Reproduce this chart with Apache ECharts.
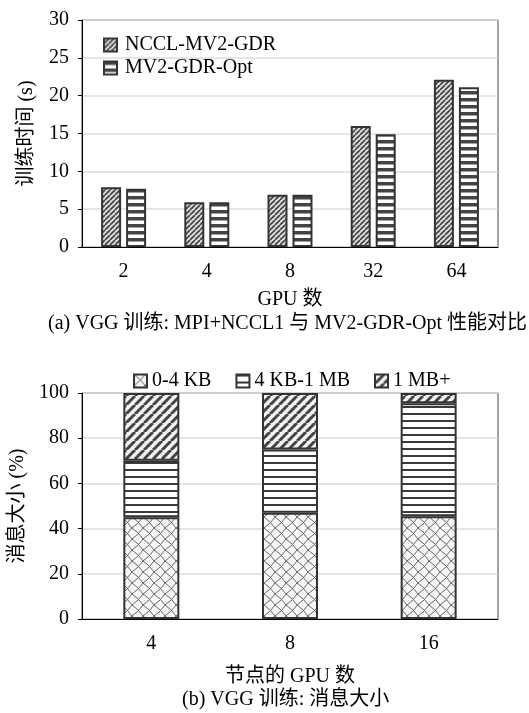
<!DOCTYPE html>
<html>
<head>
<meta charset="utf-8">
<script src="https://cdn.jsdelivr.net/npm/echarts@6/dist/echarts.min.js"></script>
<style>
  html, body { margin: 0; padding: 0; background: #fff; }
  #chart { width: 529px; height: 713px; }
</style>
</head>
<body>
<div id="chart"></div>
<script>
// (a) 训练时间
const gpuCounts = ["2", "4", "8", "32", "64"];
const ncclMv2Gdr = [7.9, 5.9, 6.9, 16.0, 22.1];
const mv2GdrOpt = [7.7, 5.9, 6.9, 14.9, 21.1];

// (b) 消息大小
const nodeGpus = ["4", "8", "16"];
const msgSmall = [45, 47, 45.5];
const msgMid = [25, 28, 50];
const msgLarge = [30, 25, 4.5];

const FONT = "'Liberation Serif', 'Noto Sans CJK SC', serif";

// canvas patterns for the hatched fills
function pattern(size, draw) {
  const c = document.createElement("canvas");
  c.width = size[0];
  c.height = size[1];
  draw(c.getContext("2d"), size[0], size[1]);
  return { image: c, repeat: "repeat" };
}
function diag(s, bg, fg, lw) {
  return pattern([s, s], function (g, w, h) {
    g.fillStyle = bg;
    g.fillRect(0, 0, w, h);
    g.strokeStyle = fg;
    g.lineWidth = lw;
    for (let k = -1; k <= 1; k++) {
      g.beginPath();
      g.moveTo(k * w, h);
      g.lineTo(k * w + w, 0);
      g.stroke();
    }
  });
}
function stripes(h, dark, bg, fg) {
  return pattern([4, h], function (g, w, hh) {
    g.fillStyle = bg;
    g.fillRect(0, 0, w, hh);
    g.fillStyle = fg;
    g.fillRect(0, 0, w, dark);
  });
}
function lattice(s) {
  return pattern([s, s], function (g, w, h) {
    g.fillStyle = "#f6f6f6";
    g.fillRect(0, 0, w, h);
    g.strokeStyle = "#666";
    g.lineWidth = 1;
    g.beginPath();
    g.moveTo(0, 0); g.quadraticCurveTo(w * 0.6, h * 0.4, w, h);
    g.moveTo(w, 0); g.quadraticCurveTo(w * 0.6, h * 0.6, 0, h);
    g.stroke();
  });
}

const patDiagA = diag(5, "#dedede", "#444", 1.7);
const patStripeA = stripes(7, 3.5, "#ffffff", "#444");
const patLattice = lattice(11);
const patStripeB = stripes(7, 2, "#ffffff", "#3a3a3a");
const patDiagB = diag(9, "#f2f2f2", "#444", 3);

const border = { borderColor: "#333", borderWidth: 2 };
const txt = { fontFamily: FONT, fontSize: 20, color: "#000" };

let myChart = echarts.init(document.getElementById("chart"));
let option = {
  animation: false,
  backgroundColor: "#fff",
  textStyle: { fontFamily: FONT },
  grid: [
    { left: 82, top: 20, width: 416, height: 227, show: true, borderColor: "#444", borderWidth: 1 },
    { left: 82, top: 393, width: 416, height: 226, show: true, borderColor: "#444", borderWidth: 1 }
  ],
  legend: [
    {
      data: ["NCCL-MV2-GDR", "MV2-GDR-Opt"],
      orient: "vertical",
      left: 98,
      top: 30,
      icon: "rect",
      itemWidth: 13,
      itemHeight: 13,
      itemGap: 3,
      textStyle: Object.assign({}, txt, { padding: [0, 0, 0, 3] })
    },
    {
      data: ["0-4 KB", "4 KB-1 MB", "1 MB+"],
      orient: "horizontal",
      left: 128,
      top: 366,
      icon: "rect",
      itemWidth: 13,
      itemHeight: 13,
      itemGap: 24,
      textStyle: txt
    }
  ],
  xAxis: [
    {
      gridIndex: 0,
      type: "category",
      data: gpuCounts,
      name: "GPU 数",
      nameLocation: "middle",
      nameGap: 43,
      nameTextStyle: txt,
      axisLine: { lineStyle: { color: "#000", width: 1 } },
      axisTick: { inside: true, alignWithLabel: true, length: 4, lineStyle: { color: "#000" } },
      axisLabel: Object.assign({ margin: 15 }, txt)
    },
    {
      gridIndex: 1,
      type: "category",
      data: nodeGpus,
      name: "节点的 GPU 数",
      nameLocation: "middle",
      nameGap: 48,
      nameTextStyle: txt,
      axisLine: { lineStyle: { color: "#000", width: 1 } },
      axisTick: { inside: true, length: 5, lineStyle: { color: "#000" } },
      axisLabel: Object.assign({ margin: 15 }, txt)
    }
  ],
  yAxis: [
    {
      gridIndex: 0,
      type: "value",
      min: 0,
      max: 30,
      interval: 5,
      name: "训练时间 (s)",
      nameLocation: "middle",
      nameGap: 45,
      nameTextStyle: txt,
      axisLine: { show: true, lineStyle: { color: "#000", width: 1 } },
      axisTick: { show: true, length: 4, lineStyle: { color: "#000" } },
      axisLabel: Object.assign({ margin: 13 }, txt),
      splitLine: { lineStyle: { color: "#dcdcdc", width: 1.5 } }
    },
    {
      gridIndex: 1,
      type: "value",
      min: 0,
      max: 100,
      interval: 20,
      name: "消息大小 (%)",
      nameLocation: "middle",
      nameGap: 45,
      nameTextStyle: txt,
      axisLine: { show: true, lineStyle: { color: "#000", width: 1 } },
      axisTick: { show: true, length: 4, lineStyle: { color: "#000" } },
      axisLabel: Object.assign({ margin: 13 }, txt),
      splitLine: { lineStyle: { color: "#dcdcdc", width: 1.5 } }
    }
  ],
  graphic: [
    {
      type: "text",
      left: 48,
      top: 314,
      style: { text: "(a) VGG 训练: MPI+NCCL1 与 MV2-GDR-Opt 性能对比", font: "20px " + FONT, fill: "#000" }
    },
    {
      type: "text",
      left: 182,
      top: 690,
      style: { text: "(b) VGG 训练: 消息大小", font: "20px " + FONT, fill: "#000" }
    }
  ],
  series: [
    {
      name: "NCCL-MV2-GDR",
      type: "bar",
      xAxisIndex: 0,
      yAxisIndex: 0,
      barWidth: 20,
      barGap: "25%",
      itemStyle: Object.assign({ color: patDiagA }, border),
      data: ncclMv2Gdr
    },
    {
      name: "MV2-GDR-Opt",
      type: "bar",
      xAxisIndex: 0,
      yAxisIndex: 0,
      barWidth: 20,
      barGap: "25%",
      itemStyle: Object.assign({ color: patStripeA }, border),
      data: mv2GdrOpt
    },
    {
      name: "0-4 KB",
      type: "bar",
      stack: "msg",
      xAxisIndex: 1,
      yAxisIndex: 1,
      barWidth: 56,
      itemStyle: Object.assign({ color: patLattice }, border),
      data: msgSmall
    },
    {
      name: "4 KB-1 MB",
      type: "bar",
      stack: "msg",
      xAxisIndex: 1,
      yAxisIndex: 1,
      barWidth: 56,
      itemStyle: Object.assign({ color: patStripeB }, border),
      data: msgMid
    },
    {
      name: "1 MB+",
      type: "bar",
      stack: "msg",
      xAxisIndex: 1,
      yAxisIndex: 1,
      barWidth: 56,
      itemStyle: Object.assign({ color: patDiagB }, border),
      data: msgLarge
    }
  ]
};

myChart.setOption(option);
window.addEventListener("resize", function () {
  myChart.resize();
});
</script>
</body>
</html>
